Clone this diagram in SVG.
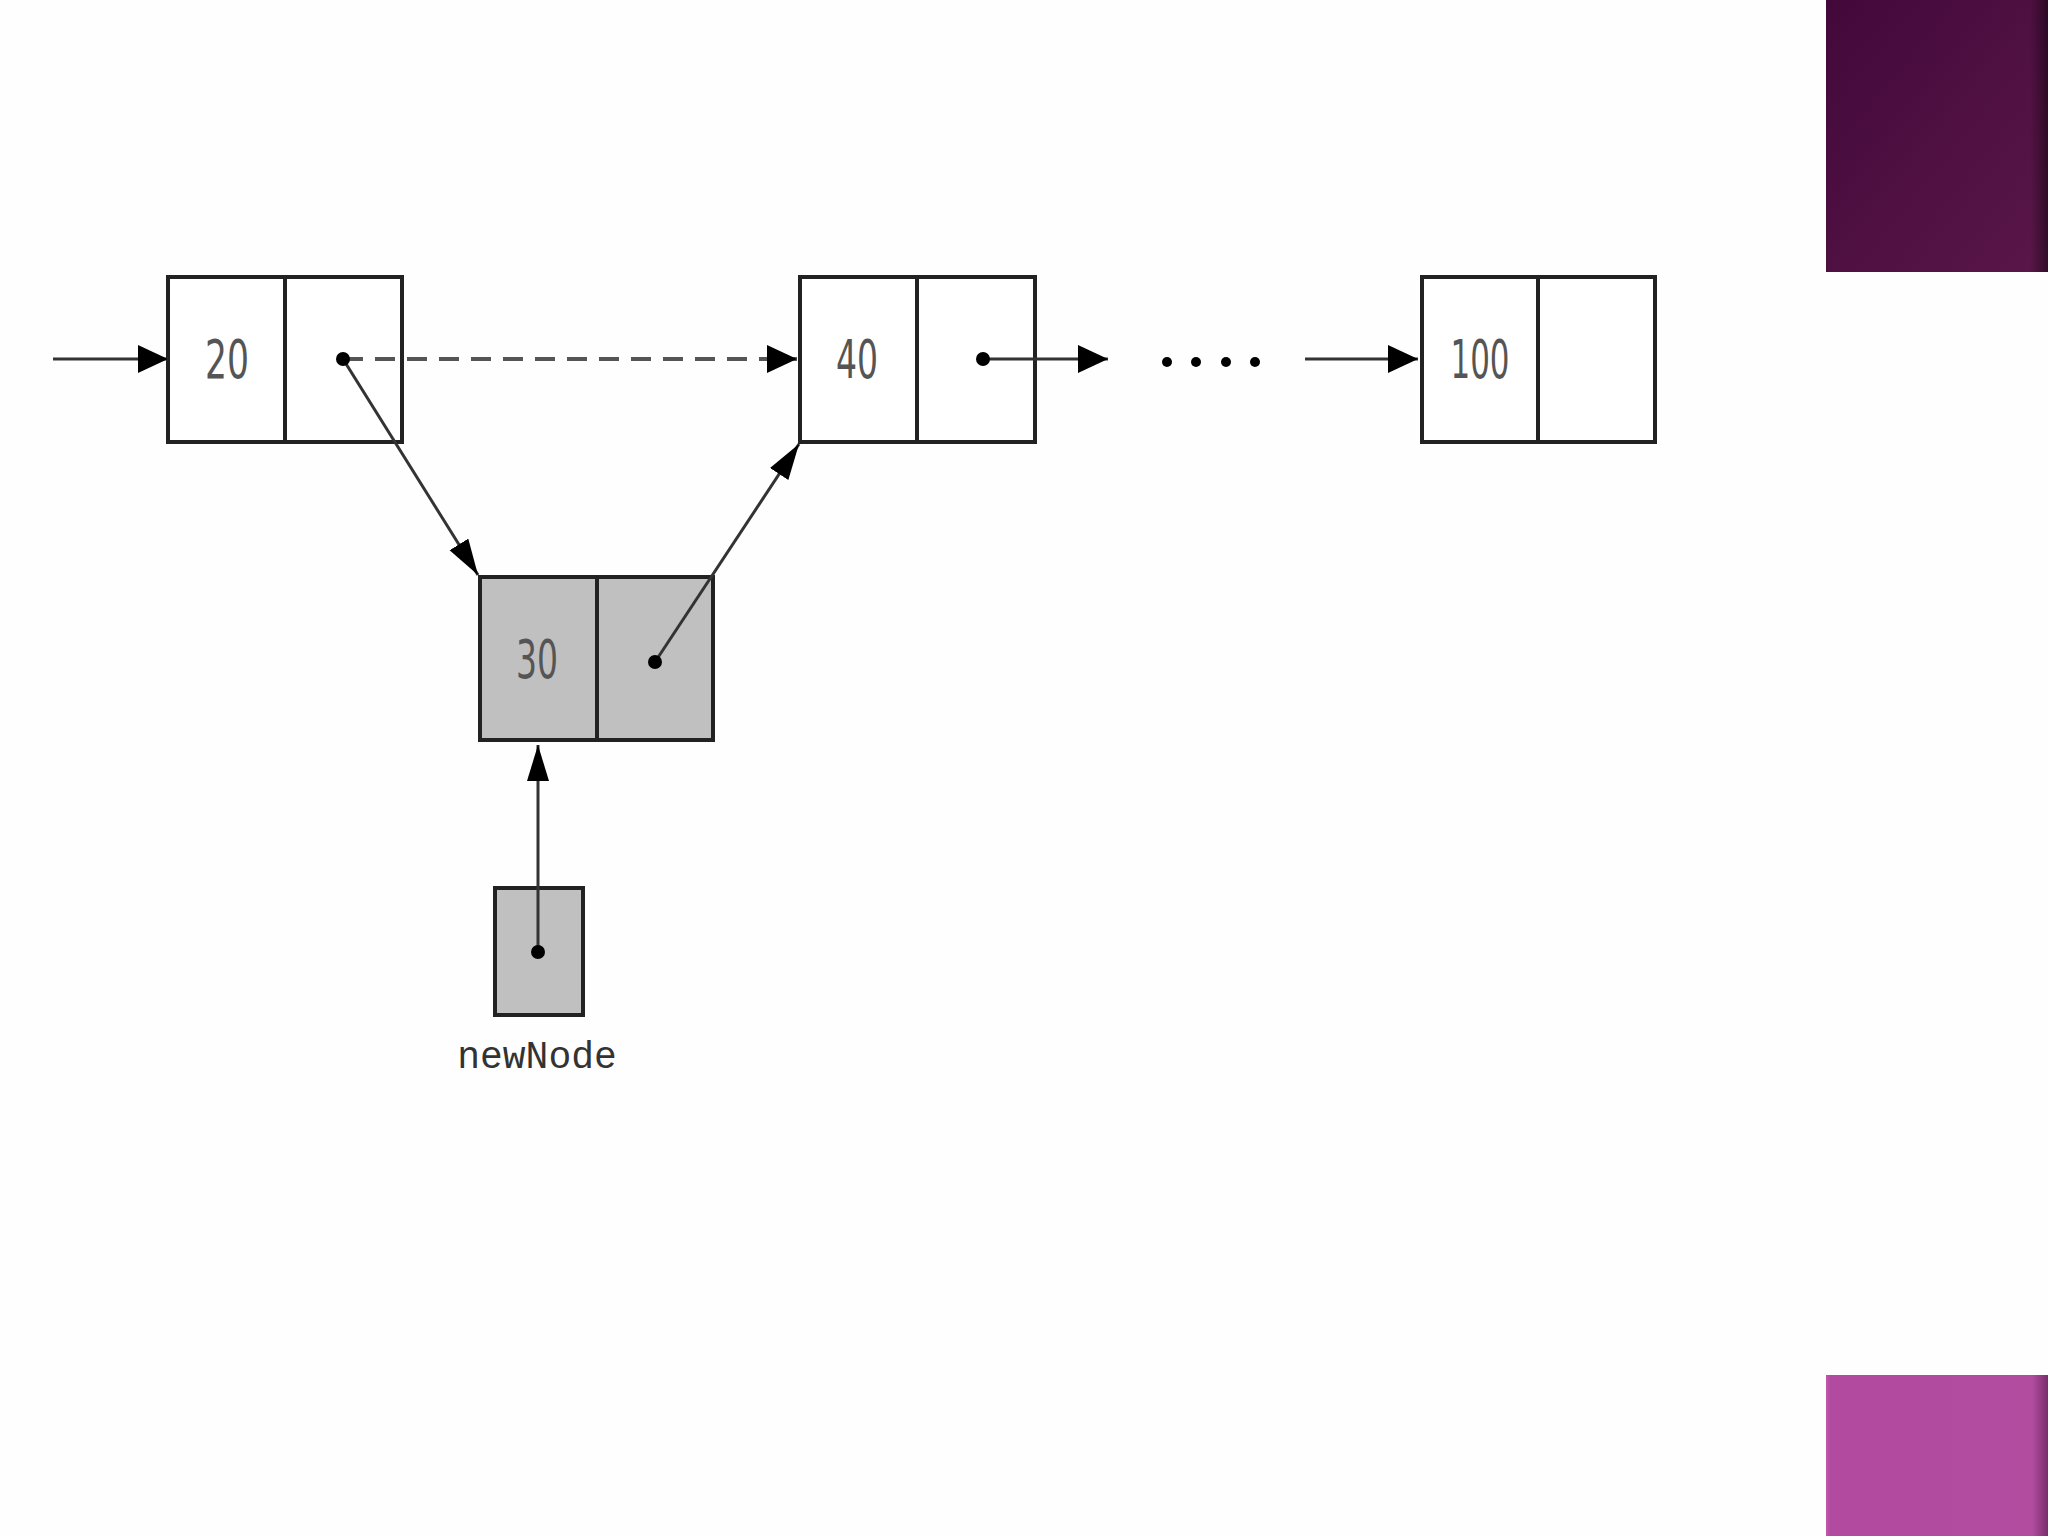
<svg xmlns="http://www.w3.org/2000/svg" width="2048" height="1536" viewBox="0 0 2048 1536">
<defs>
<style>
.box{fill:#ffffff;stroke:#222;stroke-width:4}
.gbox{fill:#c0c0c0;stroke:#222;stroke-width:4}
.div{stroke:#222;stroke-width:4}
.val{font-family:"DejaVu Sans Condensed","DejaVu Sans","Liberation Sans",sans-serif;font-size:54px;fill:#555;text-anchor:middle}
.lbl{font-family:"Liberation Mono","DejaVu Sans Mono",monospace;font-size:38px;fill:#333;text-anchor:middle}
.con{stroke:#333;stroke-width:3;fill:none}
.dash{stroke:#555;stroke-width:4;fill:none;stroke-dasharray:20 12}
.dot{fill:#000}
</style>
<marker id="ah" markerUnits="userSpaceOnUse" markerWidth="32" markerHeight="30" refX="30" refY="14" orient="auto">
<path d="M0,0 L30,14 L0,28 z" fill="#000"/>
</marker>
<marker id="an" markerUnits="userSpaceOnUse" markerWidth="38" markerHeight="24" refX="36" refY="11" orient="auto">
<path d="M0,0 L36,11 L0,22 z" fill="#000"/>
</marker>
<linearGradient id="pt" x1="0" y1="0" x2="1" y2="1">
<stop offset="0" stop-color="#43083a"/>
<stop offset="1" stop-color="#5a1749"/>
</linearGradient>
<linearGradient id="pb" x1="0" y1="0" x2="1" y2="0">
<stop offset="0" stop-color="#c059ad"/>
<stop offset="0.02" stop-color="#b24a9f"/>
<stop offset="0.93" stop-color="#b14c9f"/>
<stop offset="1" stop-color="#7a2d6c"/>
</linearGradient>
<linearGradient id="ptEdge" x1="0" y1="0" x2="1" y2="0">
<stop offset="0" stop-color="#000" stop-opacity="0"/>
<stop offset="0.92" stop-color="#000" stop-opacity="0"/>
<stop offset="1" stop-color="#000" stop-opacity="0.45"/>
</linearGradient>
</defs>
<rect width="2048" height="1536" fill="#fefefe"/>
<g id="deco">
<rect x="1826" y="0" width="222" height="272" fill="url(#pt)"/>
<rect x="1826" y="0" width="222" height="272" fill="url(#ptEdge)"/>
<rect x="1826" y="1375" width="222" height="161" fill="url(#pb)"/>
</g>
<g id="node20">
<rect class="box" x="168" y="277" width="234" height="165"/>
<line class="div" x1="285" y1="277" x2="285" y2="442"/>
<text class="val" x="227" y="378" textLength="44" lengthAdjust="spacingAndGlyphs">20</text>
</g>
<g id="node40">
<rect class="box" x="800" y="277" width="235" height="165"/>
<line class="div" x1="917" y1="277" x2="917" y2="442"/>
<text class="val" x="857" y="378" textLength="42" lengthAdjust="spacingAndGlyphs">40</text>
</g>
<g id="node100">
<rect class="box" x="1422" y="277" width="233" height="165"/>
<line class="div" x1="1538" y1="277" x2="1538" y2="442"/>
<text class="val" x="1480" y="378" textLength="59" lengthAdjust="spacingAndGlyphs">100</text>
</g>
<g id="node30">
<rect class="gbox" x="480" y="577" width="233" height="163"/>
<line class="div" x1="597" y1="577" x2="597" y2="740"/>
<text class="val" x="537" y="678" textLength="42" lengthAdjust="spacingAndGlyphs">30</text>
</g>
<g id="newNode">
<rect class="gbox" x="495" y="888" width="88" height="127"/>
<text class="lbl" x="537" y="1068">newNode</text>
</g>
<g id="connectors">
<line class="con" x1="53" y1="359" x2="168" y2="359" marker-end="url(#ah)"/>
<line class="dash" x1="343" y1="359" x2="797" y2="359" marker-end="url(#ah)"/>
<line class="con" x1="343" y1="359" x2="478" y2="575" marker-end="url(#an)"/>
<line class="con" x1="655" y1="662" x2="799" y2="444" marker-end="url(#an)"/>
<line class="con" x1="983" y1="359" x2="1108" y2="359" marker-end="url(#ah)"/>
<line class="con" x1="1305" y1="359" x2="1418" y2="359" marker-end="url(#ah)"/>
<line class="con" x1="538" y1="952" x2="538" y2="745" marker-end="url(#an)"/>
<circle class="dot" cx="343" cy="359" r="7"/>
<circle class="dot" cx="983" cy="359" r="7"/>
<circle class="dot" cx="655" cy="662" r="7"/>
<circle class="dot" cx="538" cy="952" r="7"/>
<circle class="dot" cx="1167" cy="362" r="5"/>
<circle class="dot" cx="1196" cy="362" r="5"/>
<circle class="dot" cx="1226" cy="362" r="5"/>
<circle class="dot" cx="1255" cy="362" r="5"/>
</g>
</svg>
